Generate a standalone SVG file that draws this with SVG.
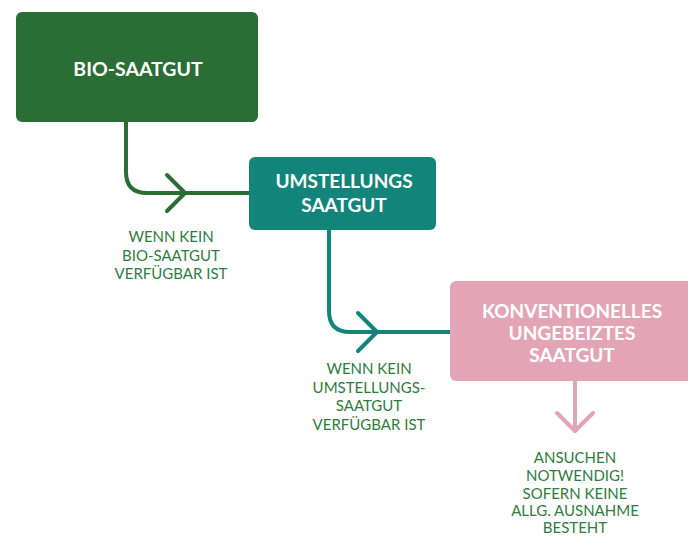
<svg xmlns="http://www.w3.org/2000/svg" width="688" height="538" viewBox="0 0 688 538">
<style>
.box-t{font-family:Lato,"Open Sans",sans-serif;font-weight:bold;fill:#ffffff;text-anchor:middle}
.lbl{font-family:Lato,"Open Sans",sans-serif;font-weight:normal;font-size:15px;fill:#2e7d3e;text-anchor:middle}
.c{fill:none;stroke-width:4;stroke-linecap:round;stroke-linejoin:round}
</style>
<rect width="688" height="538" fill="#ffffff"/>
<g id="connectors">
<path class="c" stroke="#2a6e35" d="M126 122 V172 Q126 193 147 193 H250"/>
<path class="c" stroke="#2a6e35" d="M167 175 L185 193 L167 211"/>
<path class="c" stroke="#13847a" d="M329 230 V311 Q329 332 350 332 H451"/>
<path class="c" stroke="#13847a" d="M358 313 L377 332 L358 351"/>
<path class="c" stroke="#e3a5b6" d="M575 381 V431"/>
<path class="c" stroke="#e3a5b6" d="M557 413 L575 431 L593 413"/>
</g>
<g id="node-bio">
<rect x="16" y="12" width="242" height="110" rx="6" fill="#2a6e35"/>
<text class="box-t" x="138" y="76" font-size="19.5">BIO-SAATGUT</text>
</g>
<g id="node-umstellung">
<rect x="249" y="157" width="187" height="73" rx="6" fill="#13847a"/>
<text class="box-t" x="344" y="188" font-size="19">UMSTELLUNGS</text>
<text class="box-t" x="344" y="212" font-size="19">SAATGUT</text>
</g>
<g id="node-konventionell">
<rect x="450" y="281" width="248" height="100" rx="6" fill="#e3a5b6"/>
<text class="box-t" x="572" y="318" font-size="19">KONVENTIONELLES</text>
<text class="box-t" x="572" y="340" font-size="19">UNGEBEIZTES</text>
<text class="box-t" x="572" y="362" font-size="19">SAATGUT</text>
</g>
<g id="label-1">
<text class="lbl" x="171" y="242">WENN KEIN</text>
<text class="lbl" x="171" y="261">BIO-SAATGUT</text>
<text class="lbl" x="171" y="279">VERFÜGBAR IST</text>
</g>
<g id="label-2">
<text class="lbl" x="369" y="374">WENN KEIN</text>
<text class="lbl" x="369" y="393">UMSTELLUNGS-</text>
<text class="lbl" x="369" y="411">SAATGUT</text>
<text class="lbl" x="369" y="430">VERFÜGBAR IST</text>
</g>
<g id="label-3">
<text class="lbl" x="575" y="463">ANSUCHEN</text>
<text class="lbl" x="575" y="481">NOTWENDIG!</text>
<text class="lbl" x="575" y="499">SOFERN KEINE</text>
<text class="lbl" x="575" y="516">ALLG. AUSNAHME</text>
<text class="lbl" x="575" y="533">BESTEHT</text>
</g>
</svg>
